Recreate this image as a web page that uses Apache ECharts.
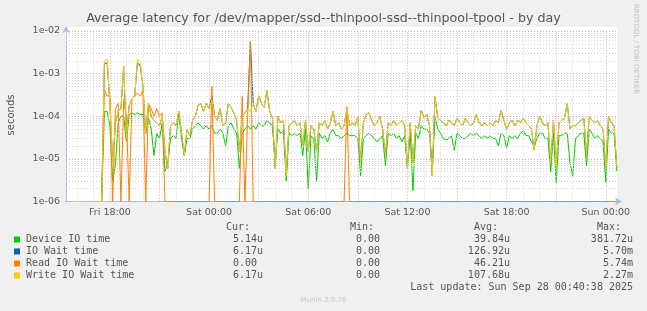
<!DOCTYPE html>
<html><head><meta charset="utf-8">
<script src="https://cdn.jsdelivr.net/npm/echarts@6/dist/echarts.min.js"></script>
<style>html,body{margin:0;padding:0;background:#f0f0f0}#c{width:647px;height:311px}</style>
</head><body><div id="c"></div>
<script>
// ---- data (10-minute samples, Fri 15:20 -> Sun 00:40), seconds ----
const deviceIO = [
 0,0,0,0,0,0,0,0,0,0,0,0,0,
 0,1.3e-4,1.3e-4,6e-5,3e-6,7e-6,7e-5,1e-4,1e-4,2.5e-5,
 1.1e-4,1.2e-4,1.1e-4,1.2e-4,1.1e-4,1.1e-4,4e-5,9e-5,5e-5,1.2e-5,
 4e-5,3e-5,7e-5,5e-6,8e-6,3e-5,3.5e-5,3e-5,1.2e-4,3e-5,
 1.2e-5,3e-5,3e-5,5e-5,6e-5,7e-5,6e-5,5e-5,6e-5,5e-5,
 6e-5,4e-5,4e-5,5e-5,4e-5,2e-5,6e-5,7e-5,5e-5,4e-5,
 6e-6,4e-5,5e-5,6e-5,5e-5,6e-5,5e-5,7e-5,6e-5,6e-5,
 8e-5,7e-5,6e-5,8e-6,5e-5,4e-5,4.5e-5,3e-6,4e-5,3.5e-5,
 4e-5,3.5e-5,4e-5,1.2e-5,5e-5,2e-6,3.5e-5,3e-5,3e-6,4e-5,
 3e-5,3.5e-5,2.5e-5,4e-5,5e-5,3.5e-5,3.5e-5,3e-5,3.5e-5,4e-5,
 3.5e-5,3.5e-5,3.5e-5,3e-5,4e-6,3e-5,3.5e-5,4e-5,3.5e-5,3e-5,
 2.5e-5,3e-5,3.5e-5,7e-6,4e-5,3.5e-5,4e-5,3e-5,3.5e-5,2.5e-5,
 3.5e-5,6e-6,4e-5,1.8e-6,4e-5,3e-5,6e-5,5e-5,5e-5,4e-5,
 5e-6,1e-4,5e-5,4e-5,3e-5,2.8e-5,3e-5,3.5e-5,1.6e-5,4e-5,
 3.5e-5,3e-5,3e-5,3.5e-5,4e-5,3.5e-5,4e-5,3.5e-5,3e-5,3.5e-5,
 3e-5,3.5e-5,3e-5,3e-5,2e-5,4e-5,3.5e-5,1.8e-5,3.5e-5,3e-5,
 3.5e-5,3e-5,4e-5,4.5e-5,3.5e-5,3.5e-5,2.5e-5,2e-5,3e-5,4e-5,
 4e-5,3e-5,3e-5,5e-6,4e-5,2.8e-6,3.5e-5,3.5e-5,4e-5,4e-5,
 8e-6,4e-6,3e-5,3.5e-5,4e-5,4e-5,7e-6,5e-5,4e-5,3e-5,
 3.5e-5,3e-5,2.5e-5,2.8e-6,5e-5,4e-5,4e-5,5.14e-6
];
const ioWait = [
 0,0,0,0,0,0,0,0,0,0,0,0,0,
 0,1.7e-3,1.8e-3,2e-4,8e-6,7e-5,1.3e-4,1.5e-4,1.5e-3,3e-5,
 1.8e-4,2.5e-4,3e-4,1.8e-3,1.5e-3,5e-4,4e-5,2e-4,1e-4,8e-5,
 7e-5,6e-5,1e-4,1.5e-5,6e-6,6e-5,7e-5,6e-5,1.3e-4,4e-5,
 1.2e-5,5e-5,3.5e-5,8e-5,1e-4,1.8e-4,2e-4,1.3e-4,2e-4,1.5e-4,
 3e-4,1e-4,8e-5,1.5e-4,6e-5,7e-5,2e-4,1.6e-4,1.2e-4,8e-5,
 1.5e-5,1e-4,1.2e-4,1.5e-4,5.7e-3,2e-4,1.3e-4,3e-4,2e-4,1.6e-4,
 4e-4,1.3e-4,9e-5,6e-6,1e-4,7e-5,8e-5,4e-6,6e-5,7e-5,
 8e-5,6e-5,7e-5,2e-5,8e-5,1.5e-5,6e-5,5e-5,1.5e-5,7e-5,
 6e-5,8e-5,5e-5,7e-5,1.3e-4,6e-5,7e-5,5e-5,6e-5,1.5e-4,
 6e-5,7e-5,6e-5,1e-4,8e-6,7e-5,1.1e-4,1.2e-4,8e-5,6e-5,
 7e-5,1e-4,5e-5,1.2e-5,7e-5,6e-5,8e-5,6e-5,7e-5,8e-5,
 6e-5,6e-6,7e-5,8e-6,6e-5,5e-5,1.4e-4,9e-5,1.1e-4,6e-5,
 4e-6,2.9e-4,9e-5,8e-5,7e-5,6e-5,8e-5,7e-5,6e-5,9e-5,
 7e-5,6e-5,9e-5,7e-5,6e-5,7e-5,1.1e-4,7e-5,6e-5,7e-5,
 6e-5,7e-5,6e-5,8e-5,7e-5,1.4e-4,8e-5,5e-5,7e-5,8e-5,
 6e-5,8e-5,7e-5,9e-5,7e-5,6e-5,5e-5,1.6e-5,6e-5,1e-4,
 7e-5,6e-5,7e-5,8e-6,8e-5,6e-6,7e-5,8e-5,9e-5,2e-4,
 5e-5,6e-5,6e-5,7e-5,8e-5,9e-5,1.2e-5,1e-4,8e-5,7e-5,
 8e-5,6e-5,5e-5,6e-6,1e-4,7e-5,6e-5,6.17e-6
];
const readWait = [
 0,0,0,0,0,0,0,0,0,0,0,0,0,
 0,4e-4,3e-4,3e-4,0,1.5e-4,2e-4,0,2.5e-4,1e-4,
 0,2.5e-4,3e-4,3.5e-4,3e-4,4e-4,0,2e-4,1.5e-4,1e-4,
 1.5e-4,1e-4,1.2e-4,0,0,0,0,0,0,0,
 0,0,0,0,0,0,0,0,0,0,
 5e-4,0,0,0,0,0,0,0,0,0,
 0,2.9e-4,0,1e-4,5.74e-3,0,0,0,0,0,
 0,0,0,0,0,0,0,0,0,0,
 0,0,0,0,0,0,0,0,0,0,
 0,0,0,0,0,0,0,0,0,1.7e-4,
 0,0,0,0,0,0,0,0,0,0,
 0,0,0,0,0,0,0,0,0,0,
 0,0,0,0,0,0,0,0,0,0,
 0,0,0,0,0,0,0,0,0,0,
 0,0,0,0,0,0,0,0,0,0,
 0,0,0,0,0,0,0,0,0,0,
 0,0,0,0,0,0,0,0,0,0,
 0,0,0,0,0,0,0,0,0,0,
 0,0,0,0,0,0,0,0,0,0,
 0,0,0,0,0,0,0,0
];
const writeWait = [
 0,0,0,0,0,0,0,0,0,0,0,0,0,
 0,2.0e-3,2.2e-3,2e-4,8e-6,7e-5,1.3e-4,1.5e-4,1.5e-3,3e-5,
 1.8e-4,2.5e-4,3e-4,2.2e-3,1.8e-3,5e-4,4e-5,2e-4,1e-4,8e-5,
 7e-5,6e-5,1e-4,1.5e-5,6e-6,6e-5,7e-5,6e-5,1.3e-4,4e-5,
 1.2e-5,5e-5,3.5e-5,8e-5,1e-4,1.8e-4,2e-4,1.3e-4,2e-4,1.5e-4,
 2.4e-4,1e-4,8e-5,1.5e-4,6e-5,7e-5,2e-4,1.6e-4,1.2e-4,8e-5,
 1.5e-5,1e-4,1.2e-4,1.5e-4,1.3e-4,2e-4,1.3e-4,3e-4,2e-4,1.6e-4,
 4e-4,1.3e-4,9e-5,6e-6,1e-4,7e-5,8e-5,4e-6,6e-5,7e-5,
 8e-5,6e-5,7e-5,2e-5,8e-5,1.5e-5,6e-5,5e-5,1.5e-5,7e-5,
 6e-5,8e-5,5e-5,7e-5,1.3e-4,6e-5,7e-5,5e-5,6e-5,1.5e-4,
 6e-5,7e-5,6e-5,1e-4,8e-6,7e-5,1.1e-4,1.2e-4,8e-5,6e-5,
 7e-5,1e-4,5e-5,1.2e-5,7e-5,6e-5,8e-5,6e-5,7e-5,8e-5,
 6e-5,6e-6,7e-5,8e-6,6e-5,5e-5,1.4e-4,9e-5,1.1e-4,6e-5,
 4e-6,2.9e-4,9e-5,8e-5,7e-5,6e-5,8e-5,7e-5,6e-5,9e-5,
 7e-5,6e-5,9e-5,7e-5,6e-5,7e-5,1.1e-4,7e-5,6e-5,7e-5,
 6e-5,7e-5,6e-5,8e-5,7e-5,1.4e-4,8e-5,5e-5,7e-5,8e-5,
 6e-5,8e-5,7e-5,9e-5,7e-5,6e-5,5e-5,1.6e-5,6e-5,1e-4,
 7e-5,6e-5,7e-5,8e-6,8e-5,6e-6,7e-5,8e-5,9e-5,2e-4,
 5e-5,6e-5,6e-5,7e-5,8e-5,9e-5,1.2e-5,1e-4,8e-5,7e-5,
 8e-5,6e-5,5e-5,6e-6,1e-4,7e-5,6e-5,6.17e-6
];
const seriesNames = ['Device IO time','IO Wait time','Read IO Wait time','Write IO Wait time'];
const seriesColors = ['#00cc00','#0066b3','#ff8000','#ffcc00'];
const legendCur = ['5.14u','6.17u','0.00 ','6.17u'];
const legendMin = ['0.00 ','0.00 ','0.00 ','0.00 '];
const legendAvg = ['39.84u','126.92u','46.21u','107.68u'];
const legendMax = ['381.72u','5.70m','5.74m','2.27m'];
// x in hours since Fri 00:00
const xTickValues = [18,24,30,36,42,48];
const xTickLabels = ['Fri 18:00','Sat 00:00','Sat 06:00','Sat 12:00','Sat 18:00','Sun 00:00'];
const xMajorGrid = [18,21,24,27,30,33,36,39,42,45,48];
const xMinorGrid = [16,17,19,20,22,23,25,26,28,29,31,32,34,35,37,38,40,41,43,44,46,47];
const yDecadeExp = [-6,-5,-4,-3,-2];
const xMin = 15 + 20/60 + 38/3600, xMax = 48 + 40/60 + 38/3600;
const startHour = 15 + 20/60, stepHours = 10/60;
const yMin = 1e-6, yMax = 1e-2;

const times = writeWait.map((_, j) => startHour + j * stepHours);
const floorZero = v => (v <= 0 ? yMin : v); // rrdtool draws zero at the floor of a log axis

const MAJOR = '#e9a3a3', MINOR = '#d4d4d4';
const vLines = [], hLines = [];
xMinorGrid.forEach(v => vLines.push({xAxis: v, lineStyle: {color: MINOR, type: [1,2], width: 1}}));
xMajorGrid.forEach(v => vLines.push({xAxis: v, lineStyle: {color: MAJOR, type: [1,2], width: 1}}));
// horizontal grid drawn on a hidden linear axis in log10 space
for (let d = 0; d < yDecadeExp.length - 1; d++) for (let k = 2; k <= 9; k++)
  hLines.push({yAxis: yDecadeExp[d] + Math.log10(k), lineStyle: {color: MINOR, type: [1,2], width: 1}});
yDecadeExp.slice(1).forEach(e => hLines.push({yAxis: e, lineStyle: {color: MAJOR, type: [1,2], width: 1}}));

const dataSets = [deviceIO, ioWait, readWait, writeWait];
const lineSeries = dataSets.map((arr, s) => ({
  name: seriesNames[s], type: 'line', z: 3 + s,
  data: arr.map((v, j) => [times[j], floorZero(v)]),
  showSymbol: false, symbol: 'none', clip: false,
  lineStyle: {color: seriesColors[s], width: 1},
  itemStyle: {color: seriesColors[s]},
  animation: false
}));

const TXT = '#555555';
const rowsY = [239.5, 251.5, 263.5, 275.5];
const MONO = '10px "DejaVu Sans Mono"';
const elements = [
  {type:'rect', shape:{x:66, y:27, width:551, height:4}, style:{fill:'#ffffff'}, z:-1},
  {type:'text', x:323.5, y:19, style:{text:'Average latency for /dev/mapper/ssd--thinpool-ssd--thinpool-tpool - by day', fill:TXT, font:'12.7px "DejaVu Sans"', textAlign:'center', textVerticalAlign:'middle'}},
  {type:'text', x:636, y:4, rotation:-Math.PI/2, style:{text:'RRDTOOL / TOBI OETIKER', fill:'#c4c4c4', font:'7px "DejaVu Sans"', textAlign:'left', textVerticalAlign:'middle'}},
  {type:'text', x:11, y:115, rotation:Math.PI/2, style:{text:'seconds', fill:TXT, font:'10px "DejaVu Sans"', textAlign:'center', textVerticalAlign:'middle'}},
  {type:'text', x:250, y:227, style:{text:'Cur:', fill:TXT, font:MONO, textAlign:'right', textVerticalAlign:'middle'}},
  {type:'text', x:374, y:227, style:{text:'Min:', fill:TXT, font:MONO, textAlign:'right', textVerticalAlign:'middle'}},
  {type:'text', x:498, y:227, style:{text:'Avg:', fill:TXT, font:MONO, textAlign:'right', textVerticalAlign:'middle'}},
  {type:'text', x:621, y:227, style:{text:'Max:', fill:TXT, font:MONO, textAlign:'right', textVerticalAlign:'middle'}},
  {type:'text', x:633, y:287.5, style:{text:'Last update: Sun Sep 28 00:40:38 2025', fill:TXT, font:MONO, textAlign:'right', textVerticalAlign:'middle'}},
  {type:'text', x:323.5, y:300, style:{text:'Munin 2.0.76', fill:'#c8c8c8', font:'7px "DejaVu Sans"', textAlign:'center', textVerticalAlign:'middle'}}
];
seriesNames.forEach((n, s) => {
  const y = rowsY[s];
  elements.push({type:'rect', shape:{x:14, y:y-3, width:6, height:6}, style:{fill:seriesColors[s]}});
  elements.push({type:'text', x:26, y:y, style:{text:n, fill:TXT, font:MONO, textAlign:'left', textVerticalAlign:'middle'}});
  [[legendCur,263],[legendMin,386],[legendAvg,510],[legendMax,633]].forEach(([arr, xr]) => {
    elements.push({type:'text', x:xr, y:y, style:{text:arr[s], fill:TXT, font:MONO, textAlign:'right', textVerticalAlign:'middle'}});
  });
});

const chart = echarts.init(document.getElementById('c'), null, {renderer:'canvas'});
chart.setOption({
  backgroundColor:'#f0f0f0',
  animation:false,
  grid:{left:66, right:30, top:31, bottom:109.5, show:true, backgroundColor:'#ffffff', borderWidth:0},
  xAxis:{type:'value', min:xMin, max:xMax,
    axisLine:{show:true, lineStyle:{color:'#b9b9e6', width:1}, symbol:['none','arrow'], symbolSize:[6,7], symbolOffset:[0,5]},
    axisTick:{show:false},
    splitLine:{show:false},
    axisLabel:{customValues:xTickValues, color:TXT, fontFamily:'DejaVu Sans', fontSize:9.5, margin:6,
      formatter: v => { const i = xTickValues.indexOf(Math.round(v)); return i >= 0 ? xTickLabels[i] : ''; }}
  },
  yAxis:[{type:'log', logBase:10, min:yMin, max:yMax,
    axisLine:{show:true, lineStyle:{color:'#b9b9e6', width:1}, symbol:['none','arrow'], symbolSize:[6,7], symbolOffset:[0,5]},
    axisTick:{show:false},
    splitLine:{show:false},
    minorTick:{show:false},
    axisLabel:{color:TXT, fontFamily:'DejaVu Sans', fontSize:9.5, margin:6,
      formatter: v => { const e = Math.round(Math.log10(v)); const a = Math.abs(e); return '1e' + (e < 0 ? '-' : '+') + (a < 10 ? '0' : '') + a; }}
  },{type:'value', min:-6, max:-2, show:false, splitLine:{show:false}}],
  graphic:{elements},
  series:[{
    type:'line', z:1, yAxisIndex:1, data:[[xMin, -6]], showSymbol:false, symbol:'none', lineStyle:{opacity:0}, silent:true,
    markLine:{silent:true, symbol:['none','none'], label:{show:false}, animation:false, data:vLines.concat(hLines)}
  }].concat(lineSeries)
});
</script></body></html>
